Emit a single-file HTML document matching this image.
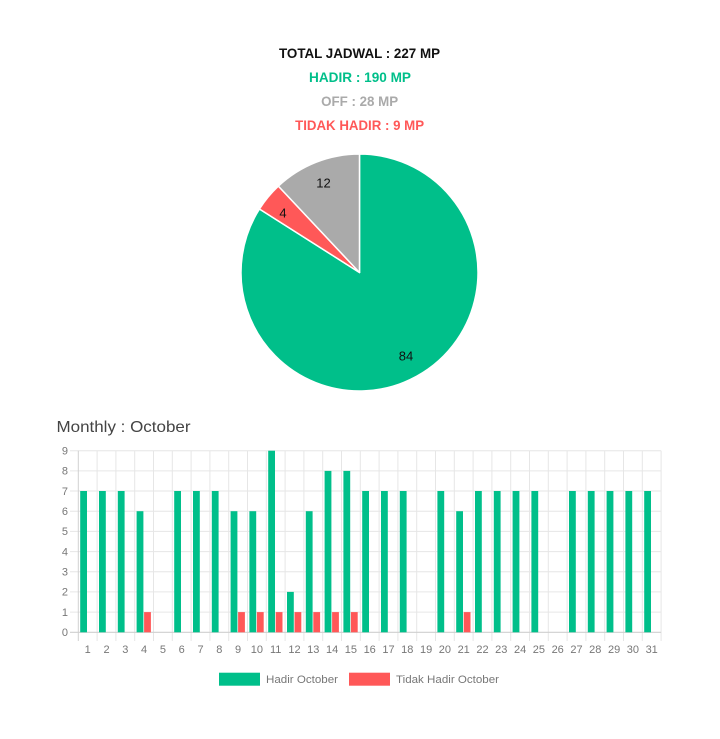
<!DOCTYPE html>
<html><head><meta charset="utf-8"><style>
html,body{margin:0;padding:0;background:#fff;}
svg{display:block;}
</style></head><body>
<svg width="720" height="739" viewBox="0 0 720 739" xmlns="http://www.w3.org/2000/svg" font-family="'Liberation Sans', sans-serif">
<rect width="720" height="739" fill="#fff"/>
<!-- header -->
<g font-weight="bold" font-size="14" text-anchor="middle">
<text x="359.5" y="58" fill="#111" textLength="161" lengthAdjust="spacingAndGlyphs">TOTAL JADWAL : 227 MP</text>
<text x="360" y="82" fill="#00bf8a" textLength="102" lengthAdjust="spacingAndGlyphs">HADIR : 190 MP</text>
<text x="359.6" y="106" fill="#aaaaaa" textLength="77" lengthAdjust="spacingAndGlyphs">OFF : 28 MP</text>
<text x="359.6" y="130" fill="#ff5858" textLength="129" lengthAdjust="spacingAndGlyphs">TIDAK HADIR : 9 MP</text>
</g>
<!-- pie -->
<g stroke="#fff" stroke-width="1.5" stroke-linejoin="round">
<path d="M359.5,272.5 L359.5,154 A118.5,118.5 0 1 1 259.45,209.01 Z" fill="#00bf8a"/>
<path d="M359.5,272.5 L259.45,209.01 A118.5,118.5 0 0 1 278.39,186.11 Z" fill="#ff5858"/>
<path d="M359.5,272.5 L278.39,186.11 A118.5,118.5 0 0 1 359.5,154 Z" fill="#aaaaaa"/>
</g>
<g font-size="13" fill="#111" text-anchor="middle">
<text x="323.5" y="187.5">12</text>
<text x="283" y="217.5">4</text>
<text x="406" y="360.5">84</text>
</g>
<!-- title -->
<text x="56.5" y="432" font-size="16" fill="#444" textLength="134" lengthAdjust="spacingAndGlyphs">Monthly : October</text>
<!-- grid -->
<g stroke="#e6e6e6" stroke-width="1">
<line x1="70" x2="661.1" y1="450.7" y2="450.7"/>
<line x1="70" x2="661.1" y1="470.9" y2="470.9"/>
<line x1="70" x2="661.1" y1="491.0" y2="491.0"/>
<line x1="70" x2="661.1" y1="511.2" y2="511.2"/>
<line x1="70" x2="661.1" y1="531.4" y2="531.4"/>
<line x1="70" x2="661.1" y1="551.6" y2="551.6"/>
<line x1="70" x2="661.1" y1="571.8" y2="571.8"/>
<line x1="70" x2="661.1" y1="591.9" y2="591.9"/>
<line x1="70" x2="661.1" y1="612.1" y2="612.1"/>
</g>
<g stroke="#e6e6e6" stroke-width="1">
<line x1="97.1" x2="97.1" y1="450.7" y2="641"/>
<line x1="115.9" x2="115.9" y1="450.7" y2="641"/>
<line x1="134.7" x2="134.7" y1="450.7" y2="641"/>
<line x1="153.5" x2="153.5" y1="450.7" y2="641"/>
<line x1="172.3" x2="172.3" y1="450.7" y2="641"/>
<line x1="191.1" x2="191.1" y1="450.7" y2="641"/>
<line x1="209.9" x2="209.9" y1="450.7" y2="641"/>
<line x1="228.7" x2="228.7" y1="450.7" y2="641"/>
<line x1="247.5" x2="247.5" y1="450.7" y2="641"/>
<line x1="266.3" x2="266.3" y1="450.7" y2="641"/>
<line x1="285.1" x2="285.1" y1="450.7" y2="641"/>
<line x1="303.9" x2="303.9" y1="450.7" y2="641"/>
<line x1="322.7" x2="322.7" y1="450.7" y2="641"/>
<line x1="341.5" x2="341.5" y1="450.7" y2="641"/>
<line x1="360.3" x2="360.3" y1="450.7" y2="641"/>
<line x1="379.1" x2="379.1" y1="450.7" y2="641"/>
<line x1="397.9" x2="397.9" y1="450.7" y2="641"/>
<line x1="416.7" x2="416.7" y1="450.7" y2="641"/>
<line x1="435.5" x2="435.5" y1="450.7" y2="641"/>
<line x1="454.3" x2="454.3" y1="450.7" y2="641"/>
<line x1="473.1" x2="473.1" y1="450.7" y2="641"/>
<line x1="491.9" x2="491.9" y1="450.7" y2="641"/>
<line x1="510.7" x2="510.7" y1="450.7" y2="641"/>
<line x1="529.5" x2="529.5" y1="450.7" y2="641"/>
<line x1="548.3" x2="548.3" y1="450.7" y2="641"/>
<line x1="567.1" x2="567.1" y1="450.7" y2="641"/>
<line x1="585.9" x2="585.9" y1="450.7" y2="641"/>
<line x1="604.7" x2="604.7" y1="450.7" y2="641"/>
<line x1="623.5" x2="623.5" y1="450.7" y2="641"/>
<line x1="642.3" x2="642.3" y1="450.7" y2="641"/>
<line x1="661.1" x2="661.1" y1="450.7" y2="641"/>
</g>
<!-- axes -->
<line x1="78.3" x2="78.3" y1="450.7" y2="641" stroke="#d0d0d0" stroke-width="1"/>
<line x1="70" x2="661.1" y1="632.3" y2="632.3" stroke="#cfcfcf" stroke-width="1.2"/>
<!-- y labels -->
<g font-size="11" fill="#777" text-anchor="end">
<text x="68" y="454.5">9</text>
<text x="68" y="474.7">8</text>
<text x="68" y="494.8">7</text>
<text x="68" y="515">6</text>
<text x="68" y="535.2">5</text>
<text x="68" y="555.4">4</text>
<text x="68" y="575.6">3</text>
<text x="68" y="595.7">2</text>
<text x="68" y="615.9">1</text>
<text x="68" y="636.1">0</text>
</g>
<!-- green bars -->
<g fill="#00bf8a">
<rect x="80.2" y="491.0" width="6.8" height="141.3"/>
<rect x="99.0" y="491.0" width="6.8" height="141.3"/>
<rect x="117.8" y="491.0" width="6.8" height="141.3"/>
<rect x="136.6" y="511.2" width="6.8" height="121.1"/>
<rect x="174.2" y="491.0" width="6.8" height="141.3"/>
<rect x="193.0" y="491.0" width="6.8" height="141.3"/>
<rect x="211.8" y="491.0" width="6.8" height="141.3"/>
<rect x="230.6" y="511.2" width="6.8" height="121.1"/>
<rect x="249.4" y="511.2" width="6.8" height="121.1"/>
<rect x="268.2" y="450.7" width="6.8" height="181.6"/>
<rect x="287.0" y="591.9" width="6.8" height="40.4"/>
<rect x="305.8" y="511.2" width="6.8" height="121.1"/>
<rect x="324.6" y="470.9" width="6.8" height="161.4"/>
<rect x="343.4" y="470.9" width="6.8" height="161.4"/>
<rect x="362.2" y="491.0" width="6.8" height="141.3"/>
<rect x="381.0" y="491.0" width="6.8" height="141.3"/>
<rect x="399.8" y="491.0" width="6.8" height="141.3"/>
<rect x="437.4" y="491.0" width="6.8" height="141.3"/>
<rect x="456.2" y="511.2" width="6.8" height="121.1"/>
<rect x="475.0" y="491.0" width="6.8" height="141.3"/>
<rect x="493.8" y="491.0" width="6.8" height="141.3"/>
<rect x="512.6" y="491.0" width="6.8" height="141.3"/>
<rect x="531.4" y="491.0" width="6.8" height="141.3"/>
<rect x="569.0" y="491.0" width="6.8" height="141.3"/>
<rect x="587.8" y="491.0" width="6.8" height="141.3"/>
<rect x="606.6" y="491.0" width="6.8" height="141.3"/>
<rect x="625.4" y="491.0" width="6.8" height="141.3"/>
<rect x="644.2" y="491.0" width="6.8" height="141.3"/>
</g>
<!-- red bars -->
<g fill="#ff5858">
<rect x="144.1" y="612.1" width="6.8" height="20.2"/>
<rect x="238.1" y="612.1" width="6.8" height="20.2"/>
<rect x="256.9" y="612.1" width="6.8" height="20.2"/>
<rect x="275.7" y="612.1" width="6.8" height="20.2"/>
<rect x="294.5" y="612.1" width="6.8" height="20.2"/>
<rect x="313.3" y="612.1" width="6.8" height="20.2"/>
<rect x="332.1" y="612.1" width="6.8" height="20.2"/>
<rect x="350.9" y="612.1" width="6.8" height="20.2"/>
<rect x="463.7" y="612.1" width="6.8" height="20.2"/>
</g>
<!-- x labels -->
<g font-size="11" fill="#777" text-anchor="middle">
<text x="87.7" y="653">1</text>
<text x="106.5" y="653">2</text>
<text x="125.3" y="653">3</text>
<text x="144.1" y="653">4</text>
<text x="162.9" y="653">5</text>
<text x="181.7" y="653">6</text>
<text x="200.5" y="653">7</text>
<text x="219.3" y="653">8</text>
<text x="238.1" y="653">9</text>
<text x="256.9" y="653">10</text>
<text x="275.7" y="653">11</text>
<text x="294.5" y="653">12</text>
<text x="313.3" y="653">13</text>
<text x="332.1" y="653">14</text>
<text x="350.9" y="653">15</text>
<text x="369.7" y="653">16</text>
<text x="388.5" y="653">17</text>
<text x="407.3" y="653">18</text>
<text x="426.1" y="653">19</text>
<text x="444.9" y="653">20</text>
<text x="463.7" y="653">21</text>
<text x="482.5" y="653">22</text>
<text x="501.3" y="653">23</text>
<text x="520.1" y="653">24</text>
<text x="538.9" y="653">25</text>
<text x="557.7" y="653">26</text>
<text x="576.5" y="653">27</text>
<text x="595.3" y="653">28</text>
<text x="614.1" y="653">29</text>
<text x="632.9" y="653">30</text>
<text x="651.7" y="653">31</text>
</g>
<!-- legend -->
<rect x="219" y="672.7" width="41" height="13" fill="#00bf8a"/>
<text x="266" y="683" font-size="11" fill="#777" textLength="72" lengthAdjust="spacingAndGlyphs">Hadir October</text>
<rect x="349" y="672.7" width="41" height="13" fill="#ff5858"/>
<text x="396" y="683" font-size="11" fill="#777" textLength="103" lengthAdjust="spacingAndGlyphs">Tidak Hadir October</text>
</svg>
</body></html>
